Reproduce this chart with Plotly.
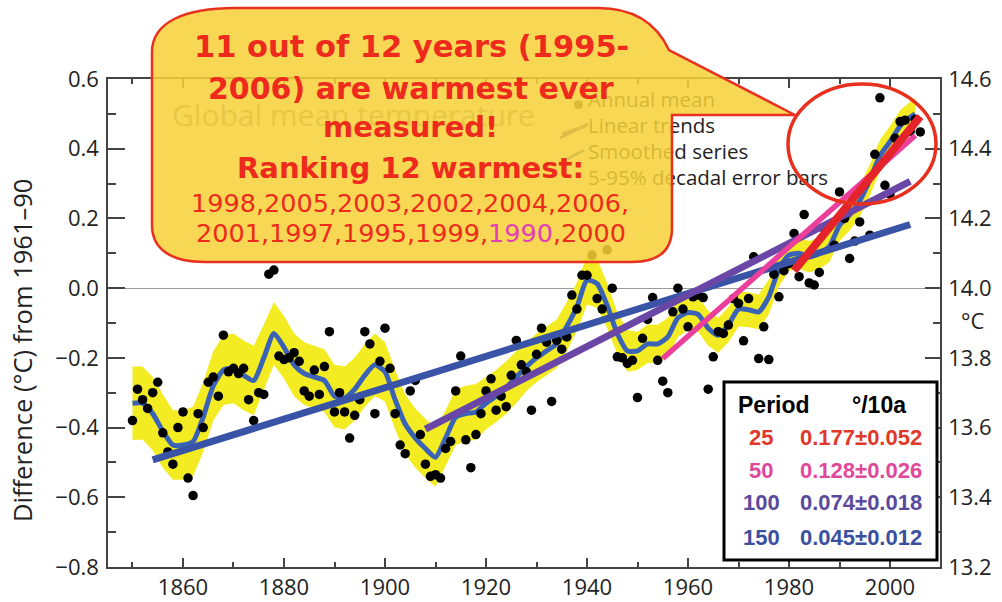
import plotly.graph_objects as go

# ---------------- data ----------------
years = list(range(1850, 2007))
annual_anom = [
    -0.38, -0.29, -0.32, -0.345, -0.30, -0.27, -0.415, -0.47, -0.505, -0.40,   # 1850s
    -0.355, -0.545, -0.595, -0.36, -0.40, -0.27, -0.255, -0.31, -0.135, -0.24,  # 1860s
    -0.23, -0.245, -0.23, -0.32, -0.38, -0.30, -0.305, 0.04, 0.052, -0.195,     # 1870s
    -0.205, -0.20, -0.185, -0.21, -0.295, -0.31, -0.235, -0.305, -0.225, -0.125,  # 1880s
    -0.355, -0.30, -0.355, -0.43, -0.365, -0.32, -0.125, -0.16, -0.36, -0.21,   # 1890s
    -0.115, -0.23, -0.36, -0.45, -0.475, -0.295, -0.265, -0.42, -0.505, -0.54,  # 1900s
    -0.535, -0.545, -0.46, -0.44, -0.295, -0.195, -0.435, -0.515, -0.42, -0.36,  # 1910s
    -0.295, -0.26, -0.35, -0.31, -0.34, -0.25, -0.15, -0.22, -0.24, -0.35,      # 1920s
    -0.19, -0.115, -0.155, -0.325, -0.15, -0.175, -0.14, -0.02, -0.06, 0.037,   # 1930s
    0.037, 0.095, -0.03, -0.06, 0.11, 0.0, -0.197, -0.20, -0.216, -0.207,       # 1940s
    -0.314, -0.144, -0.09, -0.027, -0.207, -0.267, -0.30, -0.068, 0.0, -0.06,   # 1950s
    -0.111, -0.025, -0.02, -0.027, -0.29, -0.197, -0.125, -0.13, -0.106, -0.03,  # 1960s
    -0.044, -0.151, -0.03, 0.09, -0.202, -0.111, -0.205, 0.04, -0.025, 0.05,    # 1970s
    0.07, 0.157, 0.033, 0.211, 0.015, 0.009, 0.045, 0.17, 0.18, 0.123,          # 1980s
    0.276, 0.20, 0.085, 0.135, 0.19, 0.30, 0.152, 0.384, 0.546, 0.295,          # 1990s
    0.27, 0.43, 0.478, 0.482, 0.45, 0.484, 0.448,                               # 2000s
]

smooth_years = [1850, 1852, 1854, 1856, 1858, 1860, 1862, 1864, 1866, 1868,
                1870, 1872, 1874, 1876, 1878, 1880, 1882, 1884, 1886, 1888,
                1890, 1892, 1894, 1896, 1898, 1900, 1902, 1904, 1906, 1908,
                1910, 1912, 1914, 1916, 1918, 1920, 1922, 1924, 1926, 1928,
                1930, 1932, 1934, 1936, 1938, 1940, 1942, 1944, 1946, 1948,
                1950, 1952, 1954, 1956, 1958, 1960, 1962, 1964, 1966, 1968,
                1970, 1972, 1974, 1976, 1978, 1980, 1982, 1984, 1986, 1988,
                1990, 1992, 1994, 1996, 1998, 2000, 2002, 2004, 2005]
smooth_anom = [-0.33, -0.33, -0.36, -0.41, -0.45, -0.45, -0.44, -0.37, -0.28, -0.235,
               -0.23, -0.25, -0.265, -0.20, -0.13, -0.17, -0.22, -0.245, -0.255, -0.265,
               -0.31, -0.315, -0.29, -0.25, -0.22, -0.24, -0.32, -0.39, -0.43, -0.46,
               -0.485, -0.43, -0.37, -0.36, -0.355, -0.33, -0.31, -0.285, -0.255, -0.225,
               -0.20, -0.18, -0.16, -0.11, -0.054, 0.023, 0.013, -0.05, -0.13, -0.18,
               -0.18, -0.16, -0.16, -0.14, -0.085, -0.07, -0.075, -0.115, -0.135, -0.105,
               -0.06, -0.062, -0.068, -0.025, 0.055, 0.095, 0.10, 0.09, 0.10, 0.12,
               0.18, 0.21, 0.25, 0.31, 0.38, 0.42, 0.465, 0.49, 0.50]
# half width of the 5-95% decadal error band
decadal_err = [0.105, 0.105, 0.105, 0.105, 0.10, 0.10, 0.10, 0.10, 0.10, 0.10,
               0.10, 0.10, 0.10, 0.095, 0.09, 0.09, 0.09, 0.09, 0.09, 0.09,
               0.09, 0.09, 0.09, 0.09, 0.09, 0.085, 0.085, 0.085, 0.085, 0.085,
               0.085, 0.08, 0.08, 0.08, 0.08, 0.075, 0.075, 0.075, 0.075, 0.07,
               0.07, 0.07, 0.07, 0.07, 0.07, 0.07, 0.07, 0.065, 0.06, 0.06,
               0.055, 0.055, 0.055, 0.055, 0.055, 0.05, 0.05, 0.05, 0.05, 0.05,
               0.05, 0.05, 0.05, 0.05, 0.05, 0.045, 0.045, 0.045, 0.045, 0.045,
               0.045, 0.045, 0.045, 0.045, 0.045, 0.045, 0.045, 0.045, 0.045]

trend_periods = [150, 100, 50, 25]
trend_rates = [0.045, 0.074, 0.128, 0.177]      # degC per decade
trend_rate_err = [0.012, 0.018, 0.026, 0.052]
trend_start = [1854, 1908, 1955, 1981]
trend_end = [2004, 2004, 2005, 2006]
trend_mid_anom = [-0.155, -0.049, 0.118, 0.271]  # fitted value at the span midpoint
trend_colors = ["#3953a6", "#6a47a7", "#eb3f9b", "#e5232a"]
trend_widths = [7, 7, 5.5, 8]
table_colors = ["#3a4fa0", "#5b4a9c", "#e0489a", "#e0382a"]

ranking = ["1998", "2005", "2003", "2002", "2004", "2006",
           "2001", "1997", "1995", "1999", "1990", "2000"]

legend_labels = ["Annual mean", "Linear trends", "Smoothed series",
                 "5-95% decadal error bars"]

# ---------------- geometry helpers ----------------
PL, PR, PT, PB = 108, 940, 79, 567
X0, X1 = 1845.15, 2009.9
Y0, Y1 = -0.8, 0.6


def paper(x, y):
    return (x - PL) / (PR - PL), (PB - y) / (PB - PT)


def data_xy(x, y):
    return (X0 + (x - PL) / (PR - PL) * (X1 - X0),
            Y0 + (PB - y) / (PB - PT) * (Y1 - Y0))


def path(cmds):
    out = []
    for c in cmds:
        op, pts = c[0], c[1:]
        coords = " ".join("%.5f,%.5f" % paper(*p) for p in pts)
        out.append(op + " " + coords if pts else op)
    return " ".join(out)


fig = go.Figure()

# error band
upper = [s + e for s, e in zip(smooth_anom, decadal_err)]
lower = [s - e for s, e in zip(smooth_anom, decadal_err)]
fig.add_trace(go.Scatter(
    x=smooth_years + smooth_years[::-1], y=upper + lower[::-1],
    fill="toself", fillcolor="#f3ec22", line=dict(width=0), mode="lines",
    hoverinfo="skip"))

# smoothed series
fig.add_trace(go.Scatter(x=smooth_years, y=smooth_anom, mode="lines",
                         line=dict(color="#3a62b6", width=5, shape="spline", smoothing=0.6)))

# annual means
fig.add_trace(go.Scatter(x=years, y=annual_anom, mode="markers",
                         marker=dict(color="black", size=9.5)))

# linear trends
for rate, t0, t1, mid, col, w in zip(trend_rates, trend_start, trend_end,
                                     trend_mid_anom, trend_colors, trend_widths):
    tm = (t0 + t1) / 2
    fig.add_trace(go.Scatter(
        x=[t0, t1],
        y=[mid + rate / 10 * (t0 - tm), mid + rate / 10 * (t1 - tm)],
        mode="lines", line=dict(color=col, width=w)))

# absolute-temperature axis carrier
fig.add_trace(go.Scatter(x=[X0], y=[14.0], yaxis="y2", mode="markers",
                         marker=dict(opacity=0), hoverinfo="skip"))

# panel title and key text (sit beneath the callout)
tx, ty = data_xy(172, 118)
fig.add_trace(go.Scatter(x=[tx], y=[ty], mode="text", text=["Global mean temperature"],
                         textposition="middle right",
                         textfont=dict(family="Open Sans", size=30, color="#8c8c8c")))
key_y = [102, 128, 154, 180]
kx = [data_xy(588, yy)[0] for yy in key_y]
ky = [data_xy(588, yy)[1] for yy in key_y]
fig.add_trace(go.Scatter(x=kx, y=ky, mode="text", text=legend_labels,
                         textposition="middle right",
                         textfont=dict(family="Open Sans", size=20.5, color="#222")))

shapes = []
# key symbols
x0p, y0p = paper(574, 100)
x1p, y1p = paper(583, 109)
shapes.append(dict(type="circle", xref="paper", yref="paper", x0=x0p, y0=y0p, x1=x1p, y1=y1p,
                   fillcolor="#333", line=dict(width=0), layer="above"))
for (a, b, c, d, col) in [(560, 138, 588, 124, "#3953a6"), (562, 134, 586, 126, "#6a47a7"),
                          (560, 163, 584, 150, "#3a62b6")]:
    p0, p1 = paper(a, b), paper(c, d)
    shapes.append(dict(type="line", xref="paper", yref="paper", x0=p0[0], y0=p0[1],
                       x1=p1[0], y1=p1[1], line=dict(color=col, width=3), layer="above"))

# speech bubble
bubble = path([
    ("M", (152, 52)),
    ("C", (152, 22), (185, 8), (235, 8)),
    ("L", (598, 8)),
    ("C", (630, 8), (655, 20), (669, 50)),
    ("L", (795, 115)),
    ("L", (672, 115)),
    ("L", (672, 228)),
    ("C", (672, 250), (660, 262), (632, 262)),
    ("L", (205, 262)),
    ("C", (172, 262), (152, 250), (152, 225)),
    ("Z",),
])
shapes.append(dict(type="path", xref="paper", yref="paper", path=bubble,
                   fillcolor="rgba(246,209,56,0.86)", line=dict(color="#e8321f", width=2.5),
                   layer="above"))

# ellipse around the latest years
e0, e1 = paper(788, 84), paper(936, 204)
shapes.append(dict(type="circle", xref="paper", yref="paper", x0=e0[0], y0=e0[1],
                   x1=e1[0], y1=e1[1], line=dict(color="#e8301f", width=3.5), layer="above"))

# trend table box
b0, b1 = paper(724, 382), paper(937, 560)
shapes.append(dict(type="rect", xref="paper", yref="paper", x0=b0[0], y0=b0[1],
                   x1=b1[0], y1=b1[1], fillcolor="white", line=dict(color="black", width=3),
                   layer="above"))

annotations = []


def ann(text, x, y, size, color, family, xanchor="center", angle=0):
    px_, py_ = paper(x, y)
    annotations.append(dict(text=text, x=px_, y=py_, xref="paper", yref="paper",
                            xanchor=xanchor, yanchor="middle", showarrow=False,
                            textangle=angle,
                            font=dict(size=size, color=color, family=family)))


red = "#ee2a1c"
bub_font = "DejaVu Sans"
ann("<b>11 out of 12 years (1995-</b>", 411, 47, 30.5, red, bub_font)
ann("<b>2006) are warmest ever</b>", 411, 88, 30, red, bub_font)
ann("<b>measured!</b>", 410, 127, 29, red, bub_font)
ann("<b>Ranking 12 warmest:</b>", 410, 168, 29, red, bub_font)
ann(",".join(ranking[:6]) + ",", 410, 203, 25.5, red, bub_font)
row2 = [("<span style='color:#e23fb4'>%s</span>" % y if y == "1990" else y)
        for y in ranking[6:]]
ann(",".join(row2), 411, 233, 25.5, red, bub_font)

# table text
tab_font = "Liberation Sans"
ann("<b>Period</b>", 736, 405, 23, "black", tab_font, xanchor="left")
ann("<b>°/10a</b>", 850, 405, 23, "black", tab_font, xanchor="left")
row_y = [537, 502, 470, 437]
for per, rate, err, col, yy in zip(trend_periods, trend_rates, trend_rate_err,
                                   table_colors, row_y):
    ann("<b>%d</b>" % per, 761, yy, 22, col, tab_font)
    ann("<b>%.3f±%.3f</b>" % (rate, err), 861, yy, 22, col, tab_font)

# axis titles
ann("Difference (°C) from 1961–90", 22, 351, 25.5, "#222", "Open Sans", angle=-90)
ann("°C", 972, 320, 22, "#222", "Open Sans")

axis_col = "#444"
tickfont = dict(family="Open Sans", size=22, color="#222")
fig.update_layout(
    width=1002, height=602,
    margin=dict(l=PL, r=1002 - PR, t=PT, b=602 - PB, autoexpand=False),
    paper_bgcolor="white", plot_bgcolor="white",
    showlegend=False,
    shapes=shapes, annotations=annotations,
    xaxis=dict(range=[X0, X1], tick0=1860, dtick=20, ticks="inside", ticklen=9,
               tickwidth=1.5, tickcolor=axis_col, showline=True, linecolor=axis_col,
               linewidth=1.5, mirror="ticks", showgrid=False, zeroline=False,
               tickfont=tickfont, ticklabelstandoff=0, automargin=False,
               minor=dict(tick0=1850, dtick=10, ticks="inside", ticklen=5,
                          tickcolor=axis_col, tickwidth=1.5, showgrid=False)),
    yaxis=dict(range=[Y0, Y1], tick0=0, dtick=0.2, tickformat=".1f", ticks="inside",
               ticklen=17, tickwidth=1.5, tickcolor=axis_col, showline=True,
               linecolor=axis_col, linewidth=1.5, showgrid=False, zeroline=True,
               zerolinecolor="#9a9a9a", zerolinewidth=1, tickfont=tickfont,
               ticklabelstandoff=3, automargin=False,
               minor=dict(dtick=0.1, ticks="inside", ticklen=8, tickcolor=axis_col,
                          tickwidth=1.5, showgrid=False)),
    yaxis2=dict(range=[13.2, 14.6], tick0=13.2, dtick=0.2, tickformat=".1f",
                overlaying="y", side="right", anchor="x", ticks="inside", ticklen=15,
                tickwidth=1.5, tickcolor=axis_col, showline=True, linecolor=axis_col,
                linewidth=1.5, showgrid=False, zeroline=False, tickfont=tickfont,
                ticklabelstandoff=2, automargin=False,
                minor=dict(dtick=0.1, ticks="inside", ticklen=7, tickcolor=axis_col,
                           tickwidth=1.5, showgrid=False)),
)

fig.write_html("out.html")
